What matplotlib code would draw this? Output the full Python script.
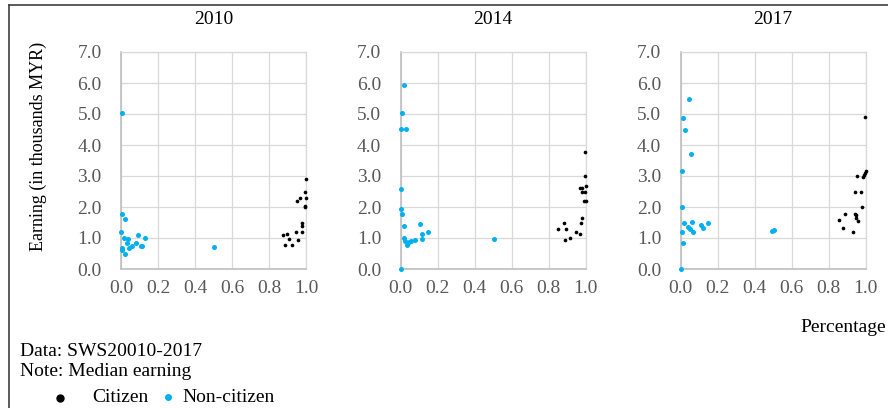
import numpy as np
import matplotlib
matplotlib.use('Agg')
import matplotlib.pyplot as plt
from matplotlib.lines import Line2D

plt.rcParams['font.family'] = ['Liberation Serif', 'DejaVu Serif']

years = ['2010', '2014', '2017']

# share of citizens (x) vs median earning in thousand MYR (y)
noncit_x = {
    '2010': [0.005, 0.004, 0.02, 0.0, 0.018, 0.036, 0.03, 0.004, 0.007, 0.02,
             0.045, 0.058, 0.08, 0.09, 0.108, 0.115, 0.13, 0.503],
    '2014': [0.02, 0.009, 0.002, 0.03, 0.0, 0.004, 0.005, 0.016, 0.02, 0.023,
             0.032, 0.043, 0.054, 0.079, 0.104, 0.113, 0.115, 0.147, 0.0, 0.504],
    '2017': [0.045, 0.011, 0.022, 0.054, 0.005, 0.007, 0.016, 0.059, 0.005, 0.041,
             0.05, 0.068, 0.011, 0.0, 0.11, 0.119, 0.146, 0.495, 0.504],
}
noncit_y = {
    '2010': [5.02, 1.76, 1.60, 1.18, 0.99, 0.96, 0.83, 0.67, 0.61, 0.49,
             0.67, 0.74, 0.85, 1.10, 0.74, 0.74, 0.99, 0.70],
    '2014': [5.93, 5.02, 4.51, 4.51, 2.57, 1.95, 1.79, 1.40, 0.99, 0.91,
             0.79, 0.88, 0.90, 0.95, 1.44, 1.13, 0.98, 1.20, 0.0, 0.96],
    '2017': [5.47, 4.87, 4.50, 3.71, 3.17, 2.0, 1.49, 1.53, 1.20, 1.34,
             1.29, 1.18, 0.83, 0.0, 1.42, 1.31, 1.49, 1.24, 1.26],
}
cit_x = {
    '2010': [0.998, 0.996, 0.998, 0.996, 0.993, 0.97, 0.95, 0.977, 0.98, 0.98,
             0.958, 0.944, 0.923, 0.91, 0.895, 0.874, 0.886],
    '2014': [0.995, 0.995, 1.0, 0.97, 0.978, 0.982, 0.995, 0.991, 1.0, 0.982,
             0.973, 0.95, 0.967, 0.917, 0.887, 0.896, 0.885, 0.851],
    '2017': [0.995, 1.0, 0.996, 0.989, 0.984, 0.953, 0.944, 0.977, 0.98, 0.887,
             0.854, 0.878, 0.941, 0.95, 0.946, 0.957, 0.932],
}
cit_y = {
    '2010': [2.89, 2.49, 2.30, 2.03, 1.99, 2.30, 2.20, 1.49, 1.39, 1.18,
             0.93, 1.18, 0.78, 0.98, 1.13, 1.10, 0.78],
    '2014': [3.79, 3.00, 2.69, 2.60, 2.60, 2.49, 2.49, 2.20, 2.20, 1.63,
             1.49, 1.20, 1.13, 0.99, 0.95, 1.29, 1.49, 1.29],
    '2017': [4.89, 3.17, 3.10, 3.03, 2.98, 3.00, 2.49, 2.49, 1.99, 1.79,
             1.58, 1.33, 1.79, 1.74, 1.63, 1.56, 1.19],
}

blue = '#00b0f0'
grid_c = '#d9d9d9'
tick_c = '#595959'

fig = plt.figure(figsize=(8.88, 4.08), dpi=100)

lefts = [121, 400.7, 680.7]
for yr, left in zip(years, lefts):
    ax = fig.add_axes([left / 888, (408 - 269) / 408, 185 / 888, 217 / 408])
    ax.scatter(noncit_x[yr], noncit_y[yr], s=13, color=blue, linewidths=0,
               zorder=3, clip_on=False)
    ax.scatter(cit_x[yr], cit_y[yr], s=7, color='black', linewidths=0,
               zorder=4, clip_on=False)
    ax.set_xlim(0, 1)
    ax.set_ylim(0, 7)
    ax.set_xticks(np.arange(0, 1.01, 0.2))
    ax.set_yticks(np.arange(0, 7.01, 1))
    ax.xaxis.set_major_formatter(plt.FormatStrFormatter('%.1f'))
    ax.yaxis.set_major_formatter(plt.FormatStrFormatter('%.1f'))
    ax.tick_params(length=0, labelsize=14, labelcolor=tick_c)
    ax.tick_params(axis='y', pad=14)
    ax.tick_params(axis='x', pad=8)
    ax.grid(True, color=grid_c, lw=0.9)
    ax.set_axisbelow(True)
    for sp in ax.spines.values():
        sp.set_color(grid_c)
        sp.set_linewidth(0.9)
    ax.spines['left'].set_color('#bfbfbf')
    ax.spines['bottom'].set_color('#bfbfbf')
    ax.spines['left'].set_linewidth(1.2)
    ax.spines['bottom'].set_linewidth(1.2)
    fig.text((left + 92.5) / 888, 1 - 19 / 408, yr, ha='center', va='center', fontsize=14)

fig.text(38 / 888, 1 - 146 / 408, 'Earning (in thousands MYR)', rotation=90,
         ha='center', va='center', fontsize=13)
fig.text(886 / 888, 1 - 328 / 408, 'Percentage', ha='right', va='center', fontsize=14)
fig.text(20 / 888, 1 - 351 / 408, 'Data: SWS20010-2017', ha='left', va='center', fontsize=14)
fig.text(20 / 888, 1 - 372 / 408, 'Note: Median earning', ha='left', va='center', fontsize=14)

# legend row
fig.add_artist(Line2D([60 / 888], [1 - 398 / 408], marker='o', ms=5, color='black',
                      ls='none', transform=fig.transFigure))
fig.text(92 / 888, 1 - 397 / 408, 'Citizen', ha='left', va='center', fontsize=14)
fig.add_artist(Line2D([168 / 888], [1 - 397 / 408], marker='o', ms=4, color=blue,
                      ls='none', transform=fig.transFigure))
fig.text(182 / 888, 1 - 397 / 408, 'Non-citizen', ha='left', va='center', fontsize=14)

# outer frame (top and left edges visible)
fig.add_artist(Line2D([9 / 888, 1], [1 - 5 / 408, 1 - 5 / 408], color='#404040', lw=1.2,
                      transform=fig.transFigure))
fig.add_artist(Line2D([9 / 888, 9 / 888], [0, 1 - 5 / 408], color='#404040', lw=1.2,
                      transform=fig.transFigure))

fig.savefig('out.png', dpi=100)
